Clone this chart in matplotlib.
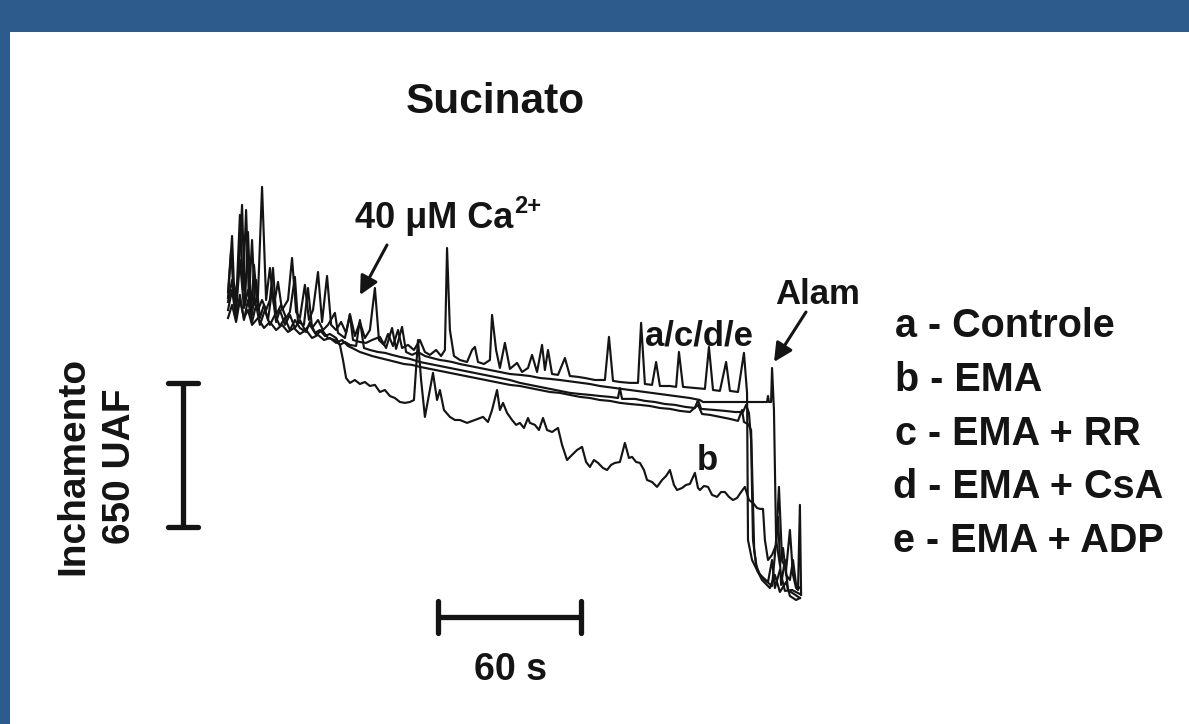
import matplotlib
matplotlib.use("Agg")
import matplotlib.pyplot as plt

# ---------------- data (time in s, swelling in UAF) ----------------
t_a = [0, 1.3, 2.5, 3.8, 5.0, 6.3, 7.6, 8.8, 10.1, 11.3, 12.6, 14.3, 16.0, 17.6, 19.3, 21.0, 22.7, 25.2, 26.9, 28.6,
       30.2, 32.3, 34.0, 35.7, 37.8, 39.5, 41.6, 43.3, 45.4, 47.5, 49.6, 51.2, 53.3, 55.4, 57.5, 59.6, 61.7, 63.4, 65.5, 67.2,
       69.3, 71.4, 73.1, 75.6, 78.1, 80.6, 82.7, 84.8, 87.4, 89.5, 91.1, 92.0, 93.2, 94.9, 97.4, 100.4, 102.5, 103.7, 105.0, 107.5,
       110.0, 110.9, 112.6, 114.2, 116.3, 118.4, 121.4, 123.5, 126.0, 127.7, 129.8, 131.9, 133.1, 134.4, 136.1, 138.6, 141.5, 143.6, 147.0, 149.9,
       154.1, 158.3, 160.0, 161.7, 164.6, 168.8, 172.2, 173.5, 175.1, 178.1, 179.8, 181.4, 185.6, 188.2, 189.4, 191.1, 196.1, 200.3, 202.0, 203.7,
       206.6, 209.2, 210.8, 214.2, 216.7, 218.0, 218.4, 220.1, 222.6, 225.5, 228.5, 229.7, 231.0, 232.3, 233.9, 235.2, 237.7, 240.2]
f_a = [1386, 1575, 1350, 1427, 1733, 1395, 1755, 1350, 1620, 1328, 1373, 1859, 1350, 1494, 1328, 1431, 1305, 1350, 1539, 1296,
       1269, 1418, 1260, 1305, 1476, 1251, 1458, 1238, 1215, 1251, 1202, 1287, 1188, 1251, 1179, 1215, 1404, 1170, 1148, 1197,
       1143, 1215, 1134, 1148, 1125, 1170, 1116, 1103, 1125, 1098, 1125, 1584, 1215, 1098, 1080, 1071, 1125, 1139, 1071, 1062,
       1080, 1283, 1125, 1044, 1157, 1040, 1067, 1026, 1044, 1103, 1026, 1148, 1035, 1125, 1017, 1013, 1089, 1008, 1004, 999,
       990, 990, 1184, 986, 981, 977, 977, 1247, 972, 968, 1071, 963, 963, 959, 1116, 959, 954, 950, 1139, 945,
       941, 1071, 941, 936, 1112, 932, 270, 180, 126, 90, 63, 203, 374, 68, 180, 45, 27, 9]

t_b = [0, 1.7, 3.4, 5.0, 6.7, 8.4, 10.1, 11.8, 13.4, 15.1, 16.8, 18.5, 20.2, 21.8, 23.9, 26.0, 28.1, 30.2, 32.3, 34.4,
       36.5, 38.6, 40.7, 42.8, 45.4, 47.0, 48.3, 49.6, 51.2, 53.3, 55.4, 57.5, 59.6, 61.7, 63.8, 65.9, 68.0, 70.1, 72.2, 74.3,
       76.4, 78.1, 79.8, 81.1, 82.7, 84.8, 86.1, 87.8, 89.0, 90.7, 93.2, 95.3, 97.4, 100.4, 103.7, 107.1, 109.2, 110.9, 113.0, 114.2,
       115.5, 117.2, 119.3, 121.0, 122.6, 124.3, 126.0, 126.8, 128.9, 130.6, 132.3, 134.0, 136.1, 138.6, 140.3, 142.4, 144.5, 146.6, 148.7, 150.4,
       152.0, 153.7, 155.4, 157.5, 159.2, 160.9, 162.5, 164.6, 166.7, 168.4, 169.7, 171.4, 173.0, 174.7, 176.0, 178.1, 180.2, 182.3, 184.0, 185.6,
       187.3, 188.6, 190.7, 192.4, 194.0, 196.1, 197.4, 198.2, 199.9, 201.6, 203.3, 205.4, 207.1, 208.7, 210.4, 212.1, 213.8, 215.5, 217.1, 218.8,
       220.5, 222.2, 223.4, 224.7, 225.5, 226.8, 228.5, 230.2, 231.4, 232.7, 234.4, 236.0, 237.3, 238.6, 239.4, 240.2, 240.7]
f_b = [1341, 1440, 1296, 1530, 1314, 1395, 1283, 1440, 1269, 1328, 1260, 1395, 1251, 1305, 1238, 1283, 1224, 1260, 1215, 1238,
       1202, 1215, 1188, 1197, 1179, 1148, 1080, 999, 977, 990, 972, 981, 963, 968, 936, 945, 918, 909, 891, 887,
       891, 900, 1170, 990, 824, 945, 1022, 900, 945, 855, 824, 810, 810, 797, 810, 824, 801, 855, 945, 855,
       887, 842, 810, 788, 797, 774, 819, 797, 788, 765, 819, 765, 756, 774, 698, 630, 653, 675, 689, 621,
       599, 630, 617, 594, 585, 608, 617, 621, 707, 639, 644, 621, 617, 585, 540, 531, 509, 540, 558, 585,
       518, 495, 504, 518, 522, 572, 504, 495, 513, 509, 473, 464, 486, 486, 464, 450, 459, 486, 509, 450,
       437, 414, 410, 410, 270, 180, 203, 248, 509, 180, 135, 315, 113, 54, 45, 428, 23]

t_c = [0, 1.7, 2.9, 4.6, 5.9, 7.1, 8.4, 9.7, 10.9, 12.6, 14.3, 16.0, 17.6, 18.9, 20.2, 22.3, 24.4, 26.0, 28.1, 29.4,
       31.9, 33.6, 35.3, 37.8, 39.9, 42.0, 44.9, 46.2, 49.1, 51.2, 52.5, 55.4, 58.0, 60.5, 63.8, 66.4, 68.9, 70.6, 73.1, 74.8,
       77.3, 79.8, 82.7, 85.7, 89.0, 91.6, 94.1, 97.4, 101.6, 105.8, 110.0, 114.2, 118.4, 122.6, 126.8, 131.0, 135.2, 139.4, 145.7, 152.0,
       156.2, 162.5, 168.8, 175.1, 181.4, 187.7, 194.0, 198.2, 199.5, 210.8, 219.2, 226.4, 226.8, 227.2, 228.1, 228.5, 229.3, 230.2, 231.8, 233.1,
       234.4, 236.0, 237.3, 238.6, 240.2]
f_c = [1359, 1638, 1305, 1485, 1778, 1328, 1656, 1283, 1508, 1305, 1350, 1305, 1350, 1494, 1283, 1328, 1269, 1296, 1454, 1251,
       1238, 1404, 1224, 1260, 1215, 1238, 1292, 1202, 1179, 1283, 1170, 1161, 1157, 1170, 1184, 1134, 1224, 1130, 1229, 1116,
       1103, 1116, 1098, 1089, 1080, 1076, 1071, 1062, 1053, 1044, 1035, 1026, 1017, 1013, 1008, 999, 995, 990, 981, 972,
       963, 954, 945, 936, 927, 918, 909, 900, 891, 891, 891, 891, 918, 891, 891, 1044, 855, 270, 158, 234,
       113, 90, 180, 68, 54]

t_d = [0, 1.7, 3.4, 5.0, 6.7, 8.4, 10.1, 11.8, 13.4, 15.5, 17.6, 19.7, 21.8, 23.9, 26.0, 28.1, 30.2, 32.8, 34.4, 37.0,
       39.5, 42.0, 44.9, 47.0, 49.1, 51.2, 53.8, 55.4, 57.1, 59.6, 63.0, 65.9, 68.9, 72.2, 76.4, 80.6, 84.8, 89.0, 93.2, 97.4,
       101.6, 105.8, 110.0, 114.2, 118.4, 122.6, 126.8, 131.0, 135.2, 139.4, 143.6, 147.8, 152.0, 156.2, 160.4, 163.8, 164.6, 165.5, 170.9, 175.1,
       179.3, 183.5, 187.7, 192.0, 196.1, 197.4, 198.7, 204.5, 208.7, 212.9, 216.3, 217.6, 218.8, 219.7, 220.5, 221.8, 223.4, 226.8, 228.5, 229.7,
       231.8, 233.9, 236.9, 240.2]
f_d = [1305, 1395, 1269, 1373, 1260, 1350, 1251, 1328, 1238, 1305, 1238, 1283, 1233, 1269, 1215, 1260, 1224, 1206, 1251, 1193,
       1215, 1179, 1170, 1148, 1161, 1148, 1143, 1260, 1134, 1125, 1116, 1112, 1103, 1094, 1085, 1071, 1062, 1053, 1044, 1035,
       1026, 1017, 1008, 999, 990, 977, 968, 959, 950, 941, 932, 927, 923, 918, 914, 909, 954, 905, 905, 896,
       891, 882, 878, 869, 864, 900, 860, 855, 851, 846, 846, 878, 842, 720, 270, 158, 113, 81, 180, 54,
       135, 41, 45, 27]

t_e = [0, 1.7, 3.4, 5.0, 6.7, 8.4, 10.1, 12.6, 15.1, 17.6, 20.2, 22.7, 25.2, 27.7, 30.2, 32.8, 35.3, 37.8, 40.3, 42.8,
       45.4, 47.9, 50.4, 52.9, 55.4, 58.0, 60.5, 63.8, 67.2, 70.6, 73.9, 77.3, 80.6, 84.8, 89.0, 93.2, 97.4, 101.6, 105.8, 110.0,
       114.2, 118.4, 122.6, 126.8, 131.0, 135.2, 139.4, 143.6, 147.8, 152.0, 156.2, 160.4, 164.6, 168.8, 173.0, 177.2, 181.4, 185.6, 189.8, 194.0,
       197.4, 199.1, 202.4, 206.6, 210.8, 214.2, 215.9, 216.7, 218.4, 219.7, 221.0, 222.2, 224.3, 227.6, 229.7, 231.8, 234.4, 236.0, 238.6, 240.2]
f_e = [1269, 1328, 1251, 1350, 1269, 1305, 1238, 1269, 1224, 1251, 1215, 1238, 1206, 1224, 1197, 1215, 1179, 1193, 1170, 1179,
       1157, 1170, 1143, 1130, 1116, 1107, 1098, 1089, 1080, 1071, 1062, 1058, 1049, 1040, 1031, 1022, 1013, 1004, 995, 986,
       977, 968, 963, 954, 945, 936, 932, 923, 914, 909, 900, 896, 887, 882, 878, 873, 864, 860, 851, 846,
       878, 837, 833, 824, 815, 806, 855, 801, 792, 765, 225, 135, 90, 54, 113, 36, 81, 18, 0, 9]

series_times = [t_a, t_b, t_c, t_d, t_e]
series_values = [f_a, f_b, f_c, f_d, f_e]

legend_labels = ["a - Controle", "b - EMA", "c - EMA + RR", "d - EMA + CsA", "e - EMA + ADP"]
title = "Sucinato"
scale_time_s = 60
scale_uaf = 650
scale_time_label = "60 s"
scale_uaf_label = "650 UAF"
y_label = "Inchamento"

# ---------------- figure ----------------
W, H = 1189, 724
BLUE = "#2d5b8b"
INK = "#141414"
FONT = "Liberation Sans"

fig = plt.figure(figsize=(W / 100, H / 100), dpi=100)
fig.patch.set_facecolor(BLUE)


def P(x, y):
    """pixel position -> figure fraction (layout helper for texts)"""
    return (x / W, 1 - y / H)


# white panel
panel = fig.add_axes([10 / W, 0, (W - 10) / W, (H - 32) / H])
panel.set_facecolor("white")
panel.set_xticks([]); panel.set_yticks([])
for s in panel.spines.values():
    s.set_visible(False)

# data axes spanning the whole figure (2.381 px per s, 0.2222 px per UAF)
ax = fig.add_axes([0, 0, 1, 1])
ax.patch.set_alpha(0)
ax.set_xlim(-95.76, 403.62)
ax.set_ylim(-558, 2700)
ax.axis("off")

for t, f in zip(series_times, series_values):
    ax.plot(t, f, color=INK, lw=1.55, solid_joinstyle="round")

# scale bars
t0, f0 = 88.2, -76.5
ax.plot([t0, t0 + scale_time_s], [f0, f0], color=INK, lw=3.8, solid_capstyle="butt")
for tt in (t0, t0 + scale_time_s):
    ax.plot([tt, tt], [f0 - 70, f0 + 70], color=INK, lw=3.8, solid_capstyle="round")

tv, fv = -18.9, 328.5
ax.plot([tv, tv], [fv, fv + scale_uaf], color=INK, lw=3.8, solid_capstyle="butt")
for ff in (fv, fv + scale_uaf):
    ax.plot([tv - 6.2, tv + 6.2], [ff, ff], color=INK, lw=3.8, solid_capstyle="round")

# ---------------- texts ----------------
kw = dict(family=FONT, weight="bold", color=INK)
fig.text(*P(495, 113), title, ha="center", va="baseline", fontsize=30.5, **kw)
fig.text(*P(355, 228), "40 \u03bcM Ca", ha="left", va="baseline", fontsize=26, **kw)
fig.text(*P(514, 213), "2+", ha="left", va="baseline", fontsize=17, **kw)
fig.text(*P(775, 304), "Alam", ha="left", va="baseline", fontsize=25, **kw)
fig.text(*P(645, 345), "a/c/d/e", ha="left", va="baseline", fontsize=25, **kw)
fig.text(*P(697, 470), "b", ha="left", va="baseline", fontsize=25, **kw)

leg_base = [337, 391, 445, 498, 552]
leg_x = [895, 895, 895, 893, 893]
for lab, yy, xx in zip(legend_labels, leg_base, leg_x):
    fig.text(*P(xx, yy), lab, ha="left", va="baseline", fontsize=28.5, **kw)

fig.text(*P(510, 680), scale_time_label, ha="center", va="baseline", fontsize=27, **kw)
fig.text(*P(73, 466), y_label, ha="center", va="center", rotation=90, fontsize=28, **kw)
fig.text(*P(120, 466), scale_uaf_label, ha="center", va="center", rotation=90, fontsize=28, **kw)

# arrows
arrow = dict(arrowstyle="-|>", mutation_scale=28, lw=2.2, color=INK, shrinkA=0, shrinkB=0)
ax.annotate("", xy=P(360, 295), xytext=P(387, 245), xycoords="figure fraction",
            textcoords="figure fraction", arrowprops=arrow)
ax.annotate("", xy=P(774, 362), xytext=P(806, 312), xycoords="figure fraction",
            textcoords="figure fraction", arrowprops=arrow)

fig.savefig("out.png", dpi=100, facecolor=BLUE)
